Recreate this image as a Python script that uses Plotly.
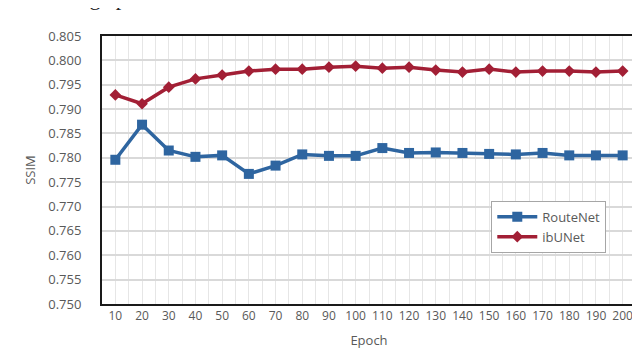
import plotly.graph_objects as go

epochs = [10, 20, 30, 40, 50, 60, 70, 80, 90, 100,
          110, 120, 130, 140, 150, 160, 170, 180, 190, 200]
routenet = [0.7796, 0.7868, 0.7815, 0.7802, 0.7805, 0.7767, 0.7784, 0.7807, 0.7804, 0.7804,
            0.7820, 0.7810, 0.7811, 0.7810, 0.7808, 0.7807, 0.7810, 0.7805, 0.7805, 0.7805]
ibunet = [0.7929, 0.7911, 0.7945, 0.7962, 0.7970, 0.7978, 0.7982, 0.7982, 0.7986, 0.7988,
          0.7984, 0.7986, 0.7980, 0.7976, 0.7982, 0.7976, 0.7978, 0.7978, 0.7976, 0.7978]
y_ticks = [0.750, 0.755, 0.760, 0.765, 0.770, 0.775, 0.780, 0.785, 0.790, 0.795, 0.800, 0.805]

BLUE = "#2e65a0"
RED = "#a21f35"
TEXT = "#595959"

fig = go.Figure()

fig.add_trace(
    go.Scatter(
        x=epochs,
        y=routenet,
        name="RouteNet",
        mode="lines+markers",
        line=dict(color=BLUE, width=3.5),
        marker=dict(symbol="square", size=10, color=BLUE),
    )
)

fig.add_trace(
    go.Scatter(
        x=epochs,
        y=ibunet,
        name="ibUNet",
        mode="lines+markers",
        line=dict(color=RED, width=3.5),
        marker=dict(symbol="diamond", size=9, color=RED),
    )
)

# page body has an 8px margin, so the figure is sized/offset to compensate
fig.update_layout(
    width=632,
    height=343,
    plot_bgcolor="white",
    paper_bgcolor="white",
    margin=dict(l=94, r=2, t=28, b=47),
    font=dict(family="Open Sans, Liberation Sans, sans-serif", size=12, color=TEXT),
    showlegend=True,
    legend=dict(
        x=0.729, y=0.385, xanchor="left", yanchor="top",
        bgcolor="white", bordercolor="#a6a6a6", borderwidth=1,
        font=dict(size=13, color=TEXT),
        itemwidth=40, tracegroupgap=6,
    ),
    annotations=[
        dict(text="training epochs.", x=0.136, y=1.0, xref="paper", yref="paper",
             xanchor="right", yanchor="bottom", yshift=24, showarrow=False,
             font=dict(family="Liberation Serif, serif", size=22, color="#222222")),
    ],
)

fig.update_xaxes(
    range=[5, 205],
    tickvals=epochs,
    ticktext=[str(e) for e in epochs],
    showgrid=True,
    gridcolor="#e6e6e6",
    gridwidth=1,
    minor=dict(dtick=10, tick0=5, showgrid=True, gridcolor="#e6e6e6", gridwidth=1),
    showline=True, linecolor="#1a1a1a", linewidth=2, mirror=True,
    ticks="", ticklen=0,
    tickfont=dict(size=12, color=TEXT),
    title=dict(text="Epoch", font=dict(size=13, color=TEXT), standoff=12),
    zeroline=False,
)

fig.update_yaxes(
    range=[0.750, 0.805],
    tickvals=y_ticks,
    ticktext=["%.3f" % v for v in y_ticks],
    showgrid=True,
    gridcolor="#d9d9d9",
    gridwidth=1.5,
    showline=True, linecolor="#1a1a1a", linewidth=2, mirror=True,
    ticks="", ticklabelstandoff=16,
    tickfont=dict(size=13, color=TEXT),
    title=dict(text="SSIM", font=dict(size=13, color=TEXT), standoff=10),
    zeroline=False,
)

fig.write_html("out.html")
